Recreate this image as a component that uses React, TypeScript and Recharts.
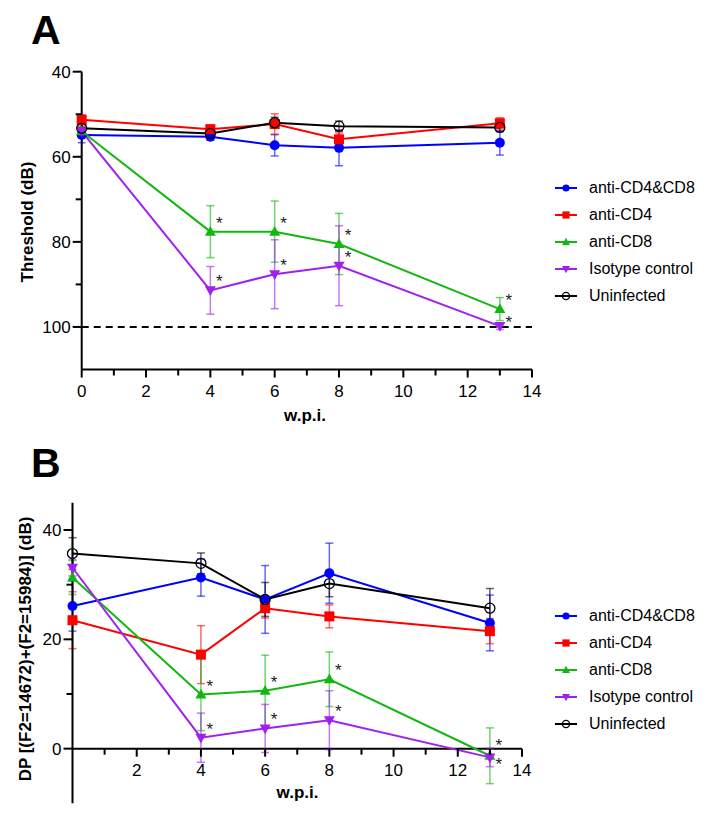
import React from "react";
import {
  LineChart,
  Line,
  XAxis,
  YAxis,
  ErrorBar,
  ReferenceLine,
  Legend,
} from "recharts";

const FONT = '"Liberation Sans", Arial, Helvetica, sans-serif';

// weeks post infection
const weeks = [0, 4, 6, 8, 13];

// A: ABR threshold (dB), mean and error
const thrCD4CD8 = [54.9, 55.3, 57.3, 57.9, 56.7];
const thrCD4CD8Err = [1.8, 0.8, 2.5, 4.2, 2.9];
const thrCD4 = [51.3, 53.5, 52.3, 55.9, 52.1];
const thrCD4Err = [1.2, 0.9, 2.4, 1.5, 1.3];
const thrCD8 = [54.0, 77.6, 77.6, 80.5, 95.8];
const thrCD8Err = [1.0, 6.1, 7.2, 7.2, 2.7];
const thrIso = [54.0, 91.4, 87.6, 85.6, 99.8];
const thrIsoErr = [1.0, 5.6, 8.1, 9.4, 0.8];
const thrUninf = [53.3, 54.5, 52.0, 52.8, 53.1];
const thrUninfErr = [1.0, 0.5, 1.3, 1.2, 1.0];

// B: DPOAE amplitude (dB), mean and error
const dpCD4CD8 = [26.1, 31.3, 27.3, 32.1, 23.0];
const dpCD4CD8Err = [4.6, 3.4, 6.2, 5.5, 5.1];
const dpCD4 = [23.5, 17.2, 25.7, 24.2, 21.5];
const dpCD4Err = [5.2, 5.3, 1.8, 2.1, 2.3];
const dpCD8 = [31.3, 9.9, 10.6, 12.7, -1.3];
const dpCD8Err = [3.1, 6.6, 6.5, 5.0, 5.1];
const dpIso = [33.1, 2.0, 3.7, 5.2, -1.6];
const dpIsoErr = [1.5, 4.5, 4.4, 5.4, 1.7];
const dpUninf = [35.7, 33.9, 27.3, 30.2, 25.7];
const dpUninfErr = [2.9, 1.9, 3.1, 2.4, 3.6];

const seriesKeys = ["cd48", "cd4", "cd8", "iso", "uninf"];
const seriesNames = ["anti-CD4&CD8", "anti-CD4", "anti-CD8", "Isotype control", "Uninfected"];
const seriesColors = ["#0000FF", "#FF0000", "#10B810", "#A020F0", "#000000"];
const seriesMarkers = ["circle", "square", "up", "down", "ring"];
const starredKeys = ["cd8", "iso"];

const xTicksA = [0, 1, 2, 3, 4, 5, 6, 7, 8, 9, 10, 11, 12, 13, 14];
const xTicksB = [0, 1, 2, 3, 4, 5, 6, 7, 8, 9, 10, 11, 12, 13, 14];
const yTicksA = [40, 50, 60, 70, 80, 90, 100];
const yTicksB = [0, 10, 20, 30, 40];

function buildRows(values: number[][], errors: number[][]) {
  return weeks.map((w, i) => {
    const row: Record<string, number> = { w };
    seriesKeys.forEach((k, s) => {
      row[k] = values[s][i];
      row[k + "Err"] = errors[s][i];
    });
    return row;
  });
}

const rowsA = buildRows(
  [thrCD4CD8, thrCD4, thrCD8, thrIso, thrUninf],
  [thrCD4CD8Err, thrCD4Err, thrCD8Err, thrIsoErr, thrUninfErr]
);
const rowsB = buildRows(
  [dpCD4CD8, dpCD4, dpCD8, dpIso, dpUninf],
  [dpCD4CD8Err, dpCD4Err, dpCD8Err, dpIsoErr, dpUninfErr]
);

const AXIS_LINE = { stroke: "#000", strokeWidth: 2 };

function Marker({ cx, cy, kind, color, r }: any) {
  switch (kind) {
    case "circle":
      return <circle cx={cx} cy={cy} r={r} fill={color} />;
    case "square":
      return <rect x={cx - r} y={cy - r} width={2 * r} height={2 * r} fill={color} />;
    case "up":
      return (
        <polygon
          points={`${cx},${cy - r * 1.15} ${cx + r * 1.1},${cy + r * 0.8} ${cx - r * 1.1},${cy + r * 0.8}`}
          fill={color}
        />
      );
    case "down":
      return (
        <polygon
          points={`${cx},${cy + r * 1.15} ${cx + r * 1.1},${cy - r * 0.8} ${cx - r * 1.1},${cy - r * 0.8}`}
          fill={color}
        />
      );
    default:
      return <circle cx={cx} cy={cy} r={r} fill="none" stroke={color} strokeWidth={1.3} />;
  }
}

function Dot({ cx, cy, index, kind, color, star, starDy }: any) {
  if (cx == null || cy == null) return null;
  return (
    <g>
      <Marker cx={cx} cy={cy} kind={kind} color={color} r={5} />
      {star && index > 0 && (
        <text
          x={cx + 9}
          y={cy + starDy(index) + 10}
          textAnchor="middle"
          fontSize={17}
          fill="#222"
          fontFamily={FONT}
        >
          *
        </text>
      )}
    </g>
  );
}

function XTick({ x, y, payload, shift, hideZero }: any) {
  const v = payload.value;
  if (hideZero && v === 0) return null;
  const major = v % 2 === 0;
  const y0 = y - shift;
  return (
    <g>
      <line x1={x} x2={x} y1={y0} y2={y0 + (major ? 8 : 6)} stroke="#000" strokeWidth={2} />
      {major && (
        <text x={x} y={y0 + 21} dy="0.355em" textAnchor="middle" fontSize={17} fill="#000" fontFamily={FONT}>
          {v}
        </text>
      )}
    </g>
  );
}

function YTick({ x, y, payload }: any) {
  const v = payload.value;
  const major = v % 20 === 0;
  return (
    <g>
      <line x1={x - (major ? 9 : 6)} x2={x} y1={y} y2={y} stroke="#000" strokeWidth={2} />
      {major && (
        <text x={x - 11} y={y} dy="0.355em" textAnchor="end" fontSize={17} fill="#000" fontFamily={FONT}>
          {v}
        </text>
      )}
    </g>
  );
}

function LegendBox() {
  return (
    <div style={{ fontFamily: FONT, fontSize: 16, color: "#000" }}>
      {seriesNames.map((name, i) => (
        <div key={name} style={{ display: "flex", alignItems: "center", height: 27 }}>
          <svg width={22} height={14} style={{ flex: "none" }}>
            <line x1={0} x2={22} y1={7} y2={7} stroke={seriesColors[i]} strokeWidth={2} />
            <Marker cx={11} cy={7} kind={seriesMarkers[i]} color={seriesColors[i]} r={3.6} />
          </svg>
          <span style={{ marginLeft: 12, whiteSpace: "nowrap" }}>{name}</span>
        </div>
      ))}
    </div>
  );
}

function renderSeries(panel: string) {
  const last = weeks.length - 1;
  return seriesKeys.map((k, s) => {
    const color = seriesColors[s];
    const star = starredKeys.includes(k);
    // the two stars at the last week sit close together
    const starDy = (i: number) => {
      if (i !== last) return -13;
      if (panel === "A") return k === "iso" ? -8 : -13;
      return k === "iso" ? 3 : -15;
    };
    return (
      <Line
        key={k}
        type="linear"
        dataKey={k}
        name={seriesNames[s]}
        stroke={color}
        strokeWidth={2}
        isAnimationActive={false}
        activeDot={false}
        dot={(p: any) => (
          <Dot
            key={`${k}-${p.index}`}
            cx={p.cx}
            cy={p.cy}
            index={p.index}
            kind={seriesMarkers[s]}
            color={color}
            star={star}
            starDy={starDy}
          />
        )}
      >
        <ErrorBar
          dataKey={k + "Err"}
          direction="y"
          width={4}
          stroke={color}
          strokeWidth={1.5}
          strokeOpacity={0.6}
          isAnimationActive={false}
        />
      </Line>
    );
  });
}

const titleStyle: React.CSSProperties = {
  position: "absolute",
  fontFamily: FONT,
  fontWeight: "bold",
  fontSize: 17,
  lineHeight: "17px",
  whiteSpace: "nowrap",
  color: "#000",
};

const letterStyle: React.CSSProperties = {
  position: "absolute",
  fontFamily: FONT,
  fontWeight: "bold",
  fontSize: 41,
  lineHeight: "41px",
  color: "#000",
};

export default function App() {
  return (
    <div style={{ position: "absolute", left: 0, top: 0, width: 717, height: 816, background: "#fff" }}>
      <div style={{ position: "absolute", left: 0, top: 0 }}>
        <LineChart width={717} height={440} data={rowsA} margin={{ top: 71.7, right: 185, bottom: 30.5, left: 0 }}>
          <XAxis
            type="number"
            dataKey="w"
            domain={[0, 14]}
            ticks={xTicksA}
            interval={0}
            height={40}
            tickSize={0}
            tickMargin={0}
            tickLine={false}
            axisLine={AXIS_LINE}
            tick={(p: any) => <XTick {...p} shift={0} />}
          />
          <YAxis
            type="number"
            domain={[40, 110]}
            reversed
            ticks={yTicksA}
            interval={0}
            width={81.7}
            tickSize={0}
            tickMargin={0}
            tickLine={false}
            axisLine={AXIS_LINE}
            tick={(p: any) => <YTick {...p} />}
          />
          <ReferenceLine y={100} stroke="#000" strokeWidth={2} strokeDasharray="7 5" />
          {renderSeries("A")}
          <Legend
            layout="vertical"
            align="center"
            verticalAlign="middle"
            wrapperStyle={{ left: 555, top: 174.5, width: 162 }}
            content={() => <LegendBox />}
          />
        </LineChart>
      </div>

      <div style={{ position: "absolute", left: 0, top: 400 }}>
        <LineChart width={717} height={416} data={rowsB} margin={{ top: 102.7, right: 195, bottom: 11.7, left: 0 }}>
          <XAxis
            type="number"
            dataKey="w"
            domain={[0, 14]}
            ticks={xTicksB}
            interval={0}
            height={1}
            tickSize={0}
            tickMargin={0}
            tickLine={false}
            axisLine={false}
            tick={(p: any) => <XTick {...p} shift={54.65} hideZero />}
          />
          <YAxis
            type="number"
            domain={[-10, 45]}
            ticks={yTicksB}
            interval={0}
            width={72.5}
            tickSize={0}
            tickMargin={0}
            tickLine={false}
            axisLine={AXIS_LINE}
            tick={(p: any) => <YTick {...p} />}
          />
          <ReferenceLine y={0} stroke="#000" strokeWidth={2} />
          {renderSeries("B")}
          <Legend
            layout="vertical"
            align="center"
            verticalAlign="middle"
            wrapperStyle={{ left: 555, top: 202.5, width: 162 }}
            content={() => <LegendBox />}
          />
        </LineChart>
      </div>

      <div style={{ ...letterStyle, left: 31, top: 10.3 }}>A</div>
      <div style={{ ...letterStyle, left: 31, top: 442.6 }}>B</div>

      <div style={{ ...titleStyle, left: 27, top: 221.5, transform: "translate(-50%, -50%) rotate(-90deg)" }}>
        Threshold (dB)
      </div>
      <div style={{ ...titleStyle, left: 305, top: 406.6, transform: "translateX(-50%)" }}>w.p.i.</div>

      <div style={{ ...titleStyle, left: 25, top: 648.5, transform: "translate(-50%, -50%) rotate(-90deg)" }}>
        DP [(F2=14672)+(F2=15984)] (dB)
      </div>
      <div style={{ ...titleStyle, left: 297.5, top: 784.4, transform: "translateX(-50%)" }}>w.p.i.</div>
    </div>
  );
}
